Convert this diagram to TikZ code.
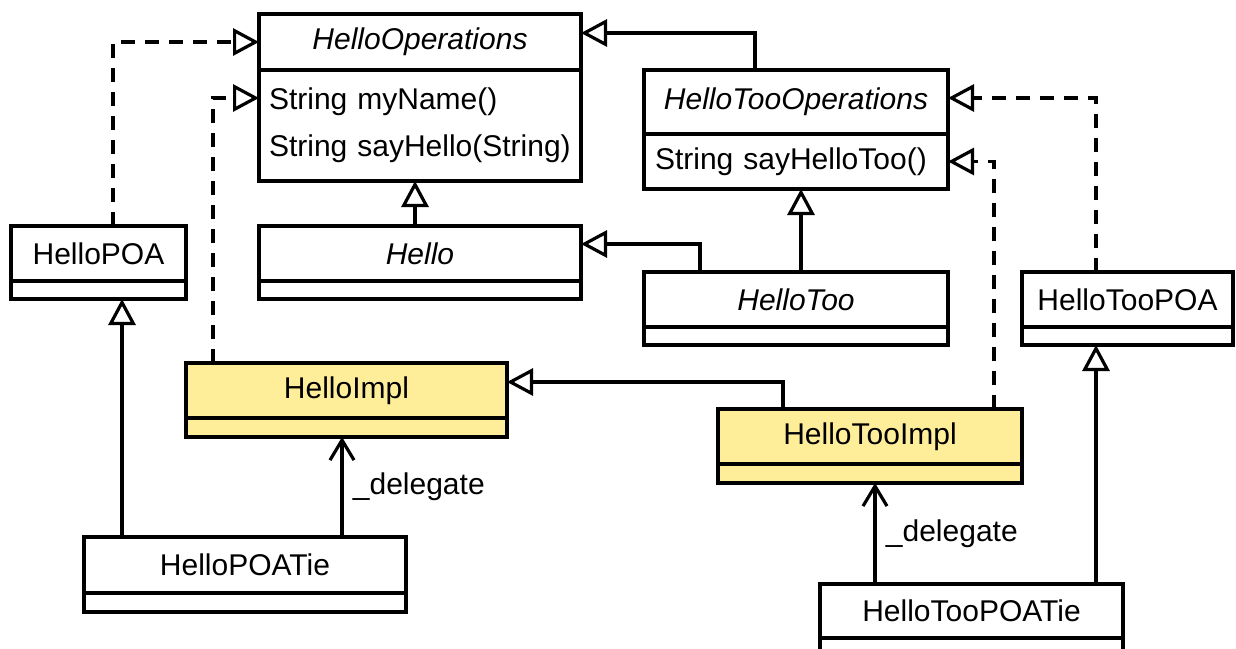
\documentclass[tikz,border=0pt]{standalone}
\usepackage{fontspec}
\setmainfont{Liberation Sans}
\usetikzlibrary{arrows.meta}
\definecolor{implyellow}{RGB}{255,238,153}

\tikzset{
  cls/.style={draw, line width=3.2pt, fill=white, inner sep=0pt, outer sep=0pt,
    minimum height=55pt, anchor=north west, font=\fontsize{30}{36}\selectfont},
  comp/.style={cls, minimum height=19pt, font=\fontsize{30}{47}\selectfont},
  impl/.style={fill=implyellow},
  gen/.style={line width=3.2pt, -{Triangle[open, length=26pt, width=27pt]}},
  real/.style={gen, dash pattern=on 14pt off 10pt},
  assoc/.style={line width=3.2pt, -{Straight Barb[length=20pt, width=24pt]}},
}

\begin{document}
\begin{tikzpicture}[x=1pt, y=-1pt]
\useasboundingbox (0,0) rectangle (1236,648);
\clip (0,0) rectangle (1236,648);

% interfaces
\node[cls, minimum width=322pt, minimum height=56pt] (ops) at (259,14) {\itshape HelloOperations};
\node[comp, minimum width=322pt, minimum height=111pt, text width=302pt, align=left] (opsm) at (ops.south west) {String myName()\\String sayHello(String)};
\node[cls, minimum width=304pt, minimum height=64pt] (tooops) at (644,70) {\itshape HelloTooOperations};
\node[comp, minimum width=304pt, minimum height=55pt, text width=282pt, align=left] (tooopsm) at (tooops.south west) {String sayHelloToo()};

% classes
\node[cls, minimum width=175pt] (poa) at (11,226) {HelloPOA};
\node[comp, minimum width=175pt, minimum height=18pt] (poac) at (poa.south west) {};
\node[cls, minimum width=322pt] (hello) at (259,226) {\itshape Hello};
\node[comp, minimum width=322pt, minimum height=18pt] (helloc) at (hello.south west) {};
\node[cls, minimum width=304pt] (hellotoo) at (644,272) {\itshape HelloToo};
\node[comp, minimum width=304pt, minimum height=18pt] (hellotooc) at (hellotoo.south west) {};
\node[cls, minimum width=211pt] (toopoa) at (1022,272) {HelloTooPOA};
\node[comp, minimum width=211pt, minimum height=18pt] (toopoac) at (toopoa.south west) {};

% implementations
\node[cls, impl, minimum width=321pt] (implname) at (186,363) {HelloImpl};
\node[comp, impl, minimum width=321pt] (implc) at (implname.south west) {};
\node[cls, impl, minimum width=304pt] (tooimpl) at (718,409) {HelloTooImpl};
\node[comp, impl, minimum width=304pt] (tooimplc) at (tooimpl.south west) {};

% ties
\node[cls, minimum width=322pt, minimum height=56pt] (poatie) at (84,537) {HelloPOATie};
\node[comp, minimum width=322pt] (poatiec) at (poatie.south west) {};
\node[cls, minimum width=303pt, minimum height=54pt] (toopoatie) at (820,584) {HelloTooPOATie};
\node[comp, minimum width=303pt] (toopoatiec) at (toopoatie.south west) {};

% anchors for the vertical connectors
\coordinate (poatieL) at ([xshift=-123pt]poatie.north);
\coordinate (poatieR) at ([xshift=97pt]poatie.north);
\coordinate (toopoatieL) at ([xshift=-96.5pt]toopoatie.north);
\coordinate (toopoatieR) at ([xshift=124.5pt]toopoatie.north);

% realizations
\draw[real] ([xshift=14.5pt]poa.north) |- (ops.west);
\draw[real] ([xshift=27pt]implname.north west) |- ([yshift=-28pt]opsm.north west);
\draw[real] ([xshift=-31.5pt]toopoa.north) |- ([yshift=4pt]tooops.east);
\draw[real] ([xshift=124pt]tooimpl.north) |- (tooopsm.east);

% generalizations
\draw[gen] ([xshift=-5pt]hello.north) -- ([xshift=-5pt]opsm.south);
\draw[gen] ([xshift=-41pt]tooops.north) |- ([yshift=9pt]ops.east);
\draw[gen] ([xshift=-96pt]hellotoo.north) |- ([yshift=9.5pt]hello.east);
\draw[gen] ([xshift=5pt]hellotoo.north) -- ([xshift=5pt]tooopsm.south);
\draw[gen] ([xshift=-87pt]tooimpl.north) |- ([yshift=8.5pt]implname.east);
\draw[gen] (poatieL) -- (poatieL |- poac.south);
\draw[gen] (toopoatieR) -- (toopoatieR |- toopoac.south);

% delegation
\draw[assoc] (poatieR) -- node[right, xshift=6pt, font=\fontsize{30}{36}\selectfont] {\_delegate} (poatieR |- implc.south);
\draw[assoc] (toopoatieL) -- node[right, xshift=6pt, font=\fontsize{30}{36}\selectfont] {\_delegate} (toopoatieL |- tooimplc.south);
\end{tikzpicture}
\end{document}
